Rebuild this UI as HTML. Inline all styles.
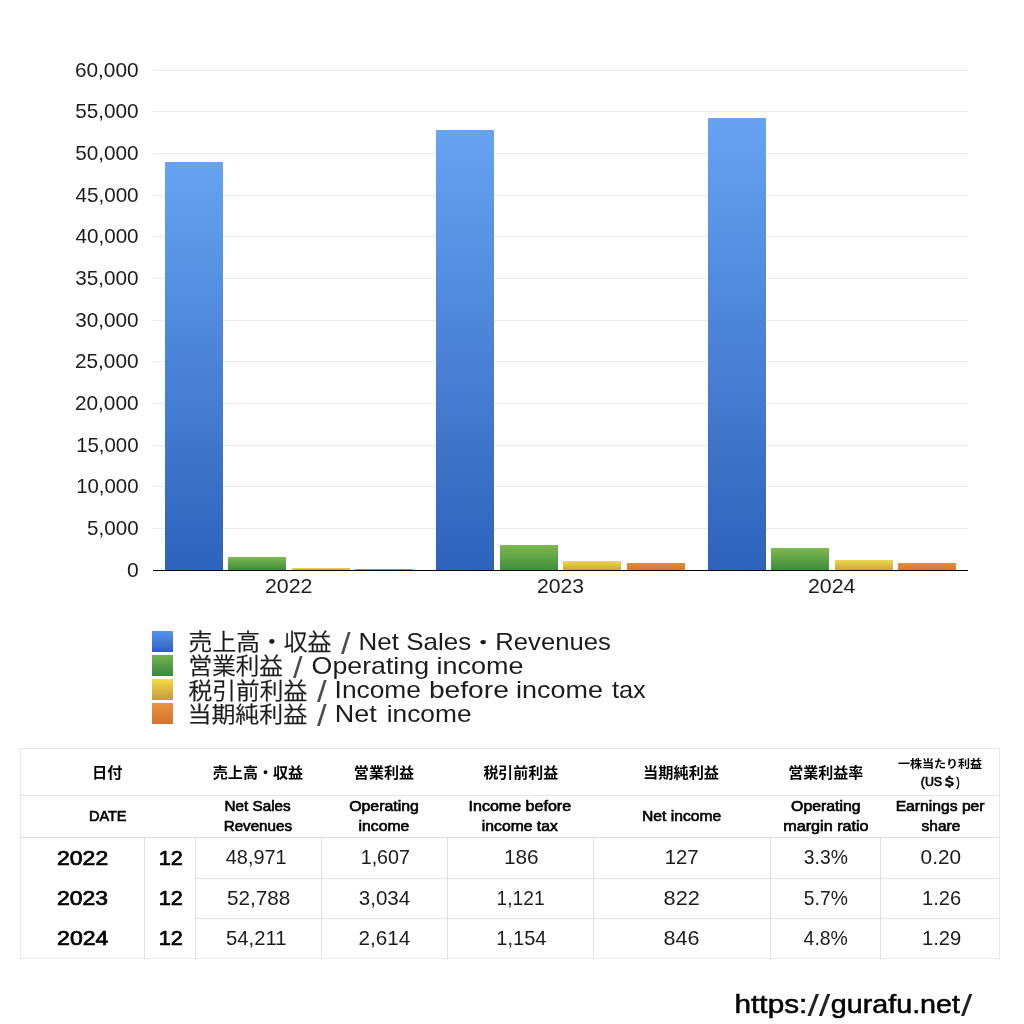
<!DOCTYPE html>
<html lang="ja"><head><meta charset="utf-8"><title>売上高・収益 / Net Sales・Revenues</title>
<style>html,body{margin:0;padding:0;background:#fff}svg{display:block}text{font-family:"Liberation Sans", "Noto Sans CJK JP", sans-serif;}</style></head><body>
<svg width="1024" height="1024" viewBox="0 0 1024 1024" role="img" aria-label="Net Sales / income bar chart and table">
<defs>
<linearGradient id="g0" x1="0" y1="0" x2="0" y2="1"><stop offset="0" stop-color="#67a3f2"/><stop offset="1" stop-color="#2d63bb"/></linearGradient>
<linearGradient id="g1" x1="0" y1="0" x2="0" y2="1"><stop offset="0" stop-color="#7eb850"/><stop offset="1" stop-color="#3e8e3c"/></linearGradient>
<linearGradient id="g2" x1="0" y1="0" x2="0" y2="1"><stop offset="0" stop-color="#ecd84e"/><stop offset="1" stop-color="#cca63c"/></linearGradient>
<linearGradient id="g3" x1="0" y1="0" x2="0" y2="1"><stop offset="0" stop-color="#e08e3e"/><stop offset="1" stop-color="#d8782e"/></linearGradient>
<linearGradient id="l0" x1="0" y1="0" x2="0" y2="1"><stop offset="0" stop-color="#5596ee"/><stop offset="1" stop-color="#2c5fbb"/></linearGradient>
<linearGradient id="l1" x1="0" y1="0" x2="0" y2="1"><stop offset="0" stop-color="#74b44e"/><stop offset="1" stop-color="#38883e"/></linearGradient>
<linearGradient id="l2" x1="0" y1="0" x2="0" y2="1"><stop offset="0" stop-color="#f4dc48"/><stop offset="1" stop-color="#c6983c"/></linearGradient>
<linearGradient id="l3" x1="0" y1="0" x2="0" y2="1"><stop offset="0" stop-color="#ea9442"/><stop offset="1" stop-color="#d6722e"/></linearGradient>
</defs>
<rect width="1024" height="1024" fill="#fff"/>
<!-- chart: gridlines, bars, axis -->
<rect x="152.5" y="528" width="815.5" height="1" fill="#ebebeb"/>
<rect x="152.5" y="486" width="815.5" height="1" fill="#ebebeb"/>
<rect x="152.5" y="445" width="815.5" height="1" fill="#ebebeb"/>
<rect x="152.5" y="403" width="815.5" height="1" fill="#ebebeb"/>
<rect x="152.5" y="361" width="815.5" height="1" fill="#ebebeb"/>
<rect x="152.5" y="320" width="815.5" height="1" fill="#ebebeb"/>
<rect x="152.5" y="278" width="815.5" height="1" fill="#ebebeb"/>
<rect x="152.5" y="236" width="815.5" height="1" fill="#ebebeb"/>
<rect x="152.5" y="195" width="815.5" height="1" fill="#ebebeb"/>
<rect x="152.5" y="153" width="815.5" height="1" fill="#ebebeb"/>
<rect x="152.5" y="111" width="815.5" height="1" fill="#ebebeb"/>
<rect x="152.5" y="70" width="815.5" height="1" fill="#ebebeb"/>
<rect x="165" y="162" width="58" height="408" fill="url(#g0)"/>
<rect x="228" y="557" width="58" height="13" fill="url(#g1)"/>
<rect x="292" y="568" width="58" height="2" fill="url(#g2)"/>
<rect x="355" y="569" width="58" height="1" fill="url(#g3)"/>
<rect x="436" y="130" width="58" height="440" fill="url(#g0)"/>
<rect x="500" y="545" width="58" height="25" fill="url(#g1)"/>
<rect x="563" y="561" width="58" height="9" fill="url(#g2)"/>
<rect x="627" y="563" width="58" height="7" fill="url(#g3)"/>
<rect x="708" y="118" width="58" height="452" fill="url(#g0)"/>
<rect x="771" y="548" width="58" height="22" fill="url(#g1)"/>
<rect x="835" y="560" width="58" height="10" fill="url(#g2)"/>
<rect x="898" y="563" width="58" height="7" fill="url(#g3)"/>
<rect x="153" y="570" width="815" height="1" fill="#000"/>
<!-- legend swatches -->
<rect x="152" y="631" width="21" height="21" fill="url(#l0)"/>
<rect x="152" y="655" width="21" height="21" fill="url(#l1)"/>
<rect x="152" y="679" width="21" height="21" fill="url(#l2)"/>
<rect x="152" y="703" width="21" height="21" fill="url(#l3)"/>
<!-- table rules (1px, pixel aligned, translucent so crossings get darker) -->
<rect x="20" y="748" width="980" height="1" fill="#000" fill-opacity="0.085"/>
<rect x="20" y="795" width="980" height="1" fill="#000" fill-opacity="0.095"/>
<rect x="20" y="837" width="980" height="1" fill="#000" fill-opacity="0.115"/>
<rect x="195" y="878" width="805" height="1" fill="#000" fill-opacity="0.115"/>
<rect x="195" y="918" width="805" height="1" fill="#000" fill-opacity="0.115"/>
<rect x="20" y="958" width="980" height="1" fill="#000" fill-opacity="0.075"/>
<rect x="20" y="749" width="1" height="209" fill="#000" fill-opacity="0.085"/>
<rect x="999" y="749" width="1" height="209" fill="#000" fill-opacity="0.085"/>
<rect x="144" y="837" width="1" height="122" fill="#000" fill-opacity="0.115"/>
<rect x="195" y="837" width="1" height="122" fill="#000" fill-opacity="0.115"/>
<rect x="321" y="837" width="1" height="122" fill="#000" fill-opacity="0.115"/>
<rect x="447" y="837" width="1" height="122" fill="#000" fill-opacity="0.115"/>
<rect x="593" y="837" width="1" height="122" fill="#000" fill-opacity="0.115"/>
<rect x="770" y="837" width="1" height="122" fill="#000" fill-opacity="0.115"/>
<rect x="880" y="837" width="1" height="122" fill="#000" fill-opacity="0.115"/>
<!-- text -->
<text fill="#1c1c1c"><tspan x="74.95" y="76.75" font-size="19.8" textLength="63.66" lengthAdjust="spacingAndGlyphs">60,000</tspan></text>
<text fill="#1c1c1c"><tspan x="75.21" y="118.42" font-size="19.8" textLength="63.39" lengthAdjust="spacingAndGlyphs">55,000</tspan></text>
<text fill="#1c1c1c"><tspan x="75.21" y="160.08" font-size="19.8" textLength="63.39" lengthAdjust="spacingAndGlyphs">50,000</tspan></text>
<text fill="#1c1c1c"><tspan x="75.48" y="201.75" font-size="19.8" textLength="63.12" lengthAdjust="spacingAndGlyphs">45,000</tspan></text>
<text fill="#1c1c1c"><tspan x="75.48" y="243.42" font-size="19.8" textLength="63.12" lengthAdjust="spacingAndGlyphs">40,000</tspan></text>
<text fill="#1c1c1c"><tspan x="75.21" y="285.08" font-size="19.8" textLength="63.39" lengthAdjust="spacingAndGlyphs">35,000</tspan></text>
<text fill="#1c1c1c"><tspan x="75.21" y="326.75" font-size="19.8" textLength="63.39" lengthAdjust="spacingAndGlyphs">30,000</tspan></text>
<text fill="#1c1c1c"><tspan x="74.95" y="368.42" font-size="19.8" textLength="63.66" lengthAdjust="spacingAndGlyphs">25,000</tspan></text>
<text fill="#1c1c1c"><tspan x="74.95" y="410.08" font-size="19.8" textLength="63.66" lengthAdjust="spacingAndGlyphs">20,000</tspan></text>
<text fill="#1c1c1c"><tspan x="76.15" y="451.75" font-size="19.8" textLength="62.44" lengthAdjust="spacingAndGlyphs">15,000</tspan></text>
<text fill="#1c1c1c"><tspan x="76.15" y="493.42" font-size="19.8" textLength="62.44" lengthAdjust="spacingAndGlyphs">10,000</tspan></text>
<text fill="#1c1c1c"><tspan x="87.12" y="535.08" font-size="19.8" textLength="51.48" lengthAdjust="spacingAndGlyphs">5,000</tspan></text>
<text fill="#1c1c1c"><tspan x="126.9" y="576.75" font-size="19.8" textLength="11.71" lengthAdjust="spacingAndGlyphs">0</tspan></text>
<text fill="#1c1c1c"><tspan x="264.91" y="592.8" font-size="19.7" textLength="47.54" lengthAdjust="spacingAndGlyphs">2022</tspan></text>
<text fill="#1c1c1c"><tspan x="536.93" y="592.8" font-size="19.7" textLength="47.05" lengthAdjust="spacingAndGlyphs">2023</tspan></text>
<text fill="#1c1c1c"><tspan x="807.92" y="592.8" font-size="19.7" textLength="47.49" lengthAdjust="spacingAndGlyphs">2024</tspan></text>
<text><tspan x="188.61" y="650.21" font-size="22.65" font-weight="350" fill="#1c1c1c" stroke="#1c1c1c" stroke-width="0.25" textLength="142.79" lengthAdjust="spacingAndGlyphs">売上高・収益</tspan> <tspan x="341" y="654.05" font-size="30" fill="#4c4c4c" textLength="9.61" lengthAdjust="spacingAndGlyphs">/</tspan> <tspan x="358.64" y="650.2" font-size="24" fill="#1c1c1c" textLength="112.54" lengthAdjust="spacingAndGlyphs">Net Sales</tspan><tspan x="470.72" y="649.85" font-size="20.11" font-weight="350" fill="#1c1c1c" stroke="#1c1c1c" stroke-width="0.25" textLength="24.96" lengthAdjust="spacingAndGlyphs">・</tspan><tspan x="495.36" y="650.2" font-size="24" fill="#1c1c1c" textLength="115.42" lengthAdjust="spacingAndGlyphs">Revenues</tspan></text>
<text><tspan x="188.64" y="674.35" font-size="22.22" font-weight="350" fill="#1c1c1c" stroke="#1c1c1c" stroke-width="0.25" textLength="94.25" lengthAdjust="spacingAndGlyphs">営業利益</tspan> <tspan x="292.9" y="678.25" font-size="30" fill="#4c4c4c" textLength="9.51" lengthAdjust="spacingAndGlyphs">/</tspan> <tspan x="311.61" y="674.2" font-size="24" fill="#1c1c1c" textLength="117.44" lengthAdjust="spacingAndGlyphs">Operating</tspan> <tspan x="436.61" y="674.2" font-size="24" fill="#1c1c1c" textLength="86.95" lengthAdjust="spacingAndGlyphs">income</tspan></text>
<text><tspan x="188.61" y="698.55" font-size="22.22" font-weight="350" fill="#1c1c1c" stroke="#1c1c1c" stroke-width="0.25" textLength="118.59" lengthAdjust="spacingAndGlyphs">税引前利益</tspan> <tspan x="317.1" y="702.35" font-size="29.86" fill="#4c4c4c" textLength="9.61" lengthAdjust="spacingAndGlyphs">/</tspan> <tspan x="334.63" y="698.3" font-size="24" fill="#1c1c1c" textLength="86.31" lengthAdjust="spacingAndGlyphs">Income</tspan> <tspan x="428.94" y="698.3" font-size="24" fill="#1c1c1c" textLength="79.91" lengthAdjust="spacingAndGlyphs">before</tspan> <tspan x="516.12" y="698.3" font-size="24" fill="#1c1c1c" textLength="86.74" lengthAdjust="spacingAndGlyphs">income</tspan> <tspan x="611.94" y="698.3" font-size="24" fill="#1c1c1c" textLength="33.85" lengthAdjust="spacingAndGlyphs">tax</tspan></text>
<text><tspan x="187.46" y="722.28" font-size="21.79" font-weight="350" fill="#1c1c1c" stroke="#1c1c1c" stroke-width="0.25" textLength="119.74" lengthAdjust="spacingAndGlyphs">当期純利益</tspan> <tspan x="317.1" y="726.45" font-size="29.86" fill="#4c4c4c" textLength="9.61" lengthAdjust="spacingAndGlyphs">/</tspan> <tspan x="334.85" y="722.4" font-size="24" fill="#1c1c1c" textLength="41.97" lengthAdjust="spacingAndGlyphs">Net</tspan> <tspan x="386.76" y="722.4" font-size="24" fill="#1c1c1c" textLength="84.78" lengthAdjust="spacingAndGlyphs">income</tspan></text>
<text fill="#000"><tspan x="92.12" y="777.98" font-size="14.21" font-weight="700" textLength="30.4" lengthAdjust="spacingAndGlyphs">日付</tspan></text>
<text fill="#000"><tspan x="212.8" y="777.76" font-size="14.42" font-weight="700" textLength="90.32" lengthAdjust="spacingAndGlyphs">売上高・収益</tspan></text>
<text fill="#000"><tspan x="353.85" y="777.76" font-size="14.42" font-weight="700" textLength="60.17" lengthAdjust="spacingAndGlyphs">営業利益</tspan></text>
<text fill="#000"><tspan x="483.45" y="777.76" font-size="14.42" font-weight="700" textLength="74.66" lengthAdjust="spacingAndGlyphs">税引前利益</tspan></text>
<text fill="#000"><tspan x="643.08" y="777.76" font-size="14.42" font-weight="700" textLength="75.94" lengthAdjust="spacingAndGlyphs">当期純利益</tspan></text>
<text fill="#000"><tspan x="788.15" y="777.76" font-size="14.42" font-weight="700" textLength="75.12" lengthAdjust="spacingAndGlyphs">営業利益率</tspan></text>
<text fill="#000"><tspan x="897.9" y="768.45" font-size="11.41" font-weight="700" textLength="84.27" lengthAdjust="spacingAndGlyphs">一株当たり利益</tspan> <tspan x="920.78" y="785.6" font-size="12" stroke="#000" stroke-width="0.6" textLength="21.4" lengthAdjust="spacingAndGlyphs">(US</tspan><tspan x="941.94" y="785.72" font-size="10.85" font-weight="700" stroke="#000" stroke-width="0.4" textLength="14.75" lengthAdjust="spacingAndGlyphs">＄</tspan><tspan x="956.59" y="785.6" font-size="12" stroke="#000" stroke-width="0.6" textLength="3.1" lengthAdjust="spacingAndGlyphs">)</tspan></text>
<text fill="#000"><tspan x="88.92" y="821.1" font-size="14" stroke="#000" stroke-width="0.6" textLength="37.65" lengthAdjust="spacingAndGlyphs">DATE</tspan></text>
<text fill="#000"><tspan x="224.58" y="810.9" font-size="14" stroke="#000" stroke-width="0.6" textLength="66.04" lengthAdjust="spacingAndGlyphs">Net Sales</tspan> <tspan x="223.69" y="831.1" font-size="14" stroke="#000" stroke-width="0.6" textLength="68.33" lengthAdjust="spacingAndGlyphs">Revenues</tspan></text>
<text fill="#000"><tspan x="349.22" y="810.9" font-size="14" stroke="#000" stroke-width="0.6" textLength="69.63" lengthAdjust="spacingAndGlyphs">Operating</tspan> <tspan x="358.56" y="831.1" font-size="14" stroke="#000" stroke-width="0.6" textLength="50.78" lengthAdjust="spacingAndGlyphs">income</tspan></text>
<text fill="#000"><tspan x="468.55" y="810.9" font-size="14" stroke="#000" stroke-width="0.6" textLength="102.53" lengthAdjust="spacingAndGlyphs">Income before</tspan> <tspan x="481.86" y="831.1" font-size="14" stroke="#000" stroke-width="0.6" textLength="75.91" lengthAdjust="spacingAndGlyphs">income tax</tspan></text>
<text fill="#000"><tspan x="642.06" y="821.1" font-size="14" stroke="#000" stroke-width="0.6" textLength="79.09" lengthAdjust="spacingAndGlyphs">Net income</tspan></text>
<text fill="#000"><tspan x="791.12" y="810.9" font-size="14" stroke="#000" stroke-width="0.6" textLength="69.43" lengthAdjust="spacingAndGlyphs">Operating</tspan> <tspan x="783.22" y="831.1" font-size="14" stroke="#000" stroke-width="0.6" textLength="85.38" lengthAdjust="spacingAndGlyphs">margin ratio</tspan></text>
<text fill="#000"><tspan x="895.66" y="810.9" font-size="14" stroke="#000" stroke-width="0.6" textLength="88.92" lengthAdjust="spacingAndGlyphs">Earnings per</tspan> <tspan x="921.6" y="831.1" font-size="14" stroke="#000" stroke-width="0.6" textLength="38.71" lengthAdjust="spacingAndGlyphs">share</tspan></text>
<text fill="#000"><tspan x="57.06" y="865.1" font-size="20.5" stroke="#000" stroke-width="0.7" textLength="51.12" lengthAdjust="spacingAndGlyphs">2022</tspan></text>
<text fill="#000"><tspan x="158.68" y="865.1" font-size="20.5" stroke="#000" stroke-width="0.7" textLength="24.08" lengthAdjust="spacingAndGlyphs">12</tspan></text>
<text fill="#1c1c1c"><tspan x="225.8" y="864.1" font-size="19.8" textLength="60.82" lengthAdjust="spacingAndGlyphs">48,971</tspan></text>
<text fill="#1c1c1c"><tspan x="360.71" y="864.1" font-size="19.8" textLength="49.2" lengthAdjust="spacingAndGlyphs">1,607</tspan></text>
<text fill="#1c1c1c"><tspan x="503.92" y="864.1" font-size="19.8" textLength="34.68" lengthAdjust="spacingAndGlyphs">186</tspan></text>
<text fill="#1c1c1c"><tspan x="664.66" y="864.1" font-size="19.8" textLength="33.88" lengthAdjust="spacingAndGlyphs">127</tspan></text>
<text fill="#1c1c1c"><tspan x="803.87" y="864.1" font-size="19.8" textLength="44.01" lengthAdjust="spacingAndGlyphs">3.3%</tspan></text>
<text fill="#1c1c1c"><tspan x="920.61" y="864.1" font-size="19.8" textLength="40.49" lengthAdjust="spacingAndGlyphs">0.20</tspan></text>
<text fill="#000"><tspan x="57.06" y="905.3" font-size="20.5" stroke="#000" stroke-width="0.7" textLength="51.02" lengthAdjust="spacingAndGlyphs">2023</tspan></text>
<text fill="#000"><tspan x="158.68" y="905.3" font-size="20.5" stroke="#000" stroke-width="0.7" textLength="24.08" lengthAdjust="spacingAndGlyphs">12</tspan></text>
<text fill="#1c1c1c"><tspan x="227.12" y="905" font-size="19.8" textLength="63.28" lengthAdjust="spacingAndGlyphs">52,788</tspan></text>
<text fill="#1c1c1c"><tspan x="358.82" y="905" font-size="19.8" textLength="51.41" lengthAdjust="spacingAndGlyphs">3,034</tspan></text>
<text fill="#1c1c1c"><tspan x="496.44" y="905" font-size="19.8" textLength="48.15" lengthAdjust="spacingAndGlyphs">1,121</tspan></text>
<text fill="#1c1c1c"><tspan x="663.58" y="905" font-size="19.8" textLength="36.24" lengthAdjust="spacingAndGlyphs">822</tspan></text>
<text fill="#1c1c1c"><tspan x="803.87" y="905" font-size="19.8" textLength="44.01" lengthAdjust="spacingAndGlyphs">5.7%</tspan></text>
<text fill="#1c1c1c"><tspan x="921.98" y="905" font-size="19.8" textLength="39.1" lengthAdjust="spacingAndGlyphs">1.26</tspan></text>
<text fill="#000"><tspan x="57.06" y="945.2" font-size="20.5" stroke="#000" stroke-width="0.7" textLength="51.35" lengthAdjust="spacingAndGlyphs">2024</tspan></text>
<text fill="#000"><tspan x="158.68" y="945.2" font-size="20.5" stroke="#000" stroke-width="0.7" textLength="24.08" lengthAdjust="spacingAndGlyphs">12</tspan></text>
<text fill="#1c1c1c"><tspan x="226.13" y="945" font-size="19.8" textLength="60.34" lengthAdjust="spacingAndGlyphs">54,211</tspan></text>
<text fill="#1c1c1c"><tspan x="358.56" y="945" font-size="19.8" textLength="51.68" lengthAdjust="spacingAndGlyphs">2,614</tspan></text>
<text fill="#1c1c1c"><tspan x="496.38" y="945" font-size="19.8" textLength="50.04" lengthAdjust="spacingAndGlyphs">1,154</tspan></text>
<text fill="#1c1c1c"><tspan x="663.58" y="945" font-size="19.8" textLength="35.95" lengthAdjust="spacingAndGlyphs">846</tspan></text>
<text fill="#1c1c1c"><tspan x="803.61" y="945" font-size="19.8" textLength="44.27" lengthAdjust="spacingAndGlyphs">4.8%</tspan></text>
<text fill="#1c1c1c"><tspan x="921.97" y="945" font-size="19.8" textLength="39.37" lengthAdjust="spacingAndGlyphs">1.29</tspan></text>
<text><tspan x="734.58" y="1013" font-size="25.22" fill="#000" stroke="#000" stroke-width="0.5" textLength="72.71" lengthAdjust="spacingAndGlyphs">https:</tspan><tspan x="807.4" y="1016.14" font-size="29.5" fill="#222" textLength="22.99" lengthAdjust="spacingAndGlyphs">//</tspan><tspan x="830.77" y="1013" font-size="25.22" fill="#000" stroke="#000" stroke-width="0.5" textLength="129.26" lengthAdjust="spacingAndGlyphs">gurafu.net</tspan><tspan x="961.1" y="1016.14" font-size="29.5" fill="#222" textLength="11.25" lengthAdjust="spacingAndGlyphs">/</tspan></text>
</svg></body></html>
